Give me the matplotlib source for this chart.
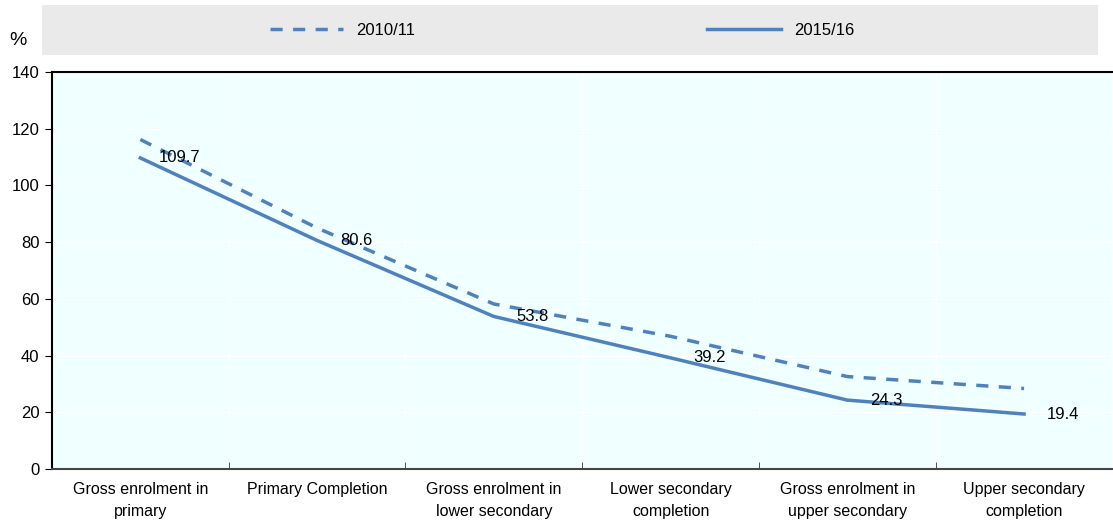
import matplotlib
matplotlib.use("Agg")
import matplotlib.pyplot as plt
from matplotlib.patches import Rectangle

plt.rcParams['font.family'] = ['Liberation Sans', 'DejaVu Sans']

categories = ["Gross enrolment in\nprimary", "Primary Completion",
              "Gross enrolment in\nlower secondary", "Lower secondary\ncompletion",
              "Gross enrolment in\nupper secondary", "Upper secondary\ncompletion"]
y2010 = [116.2, 85.0, 58.2, 46.8, 32.6, 28.4]
y2015 = [109.7, 80.6, 53.8, 39.2, 24.3, 19.4]

blue = '#4f81bd'
fs = 11.5

fig = plt.figure(figsize=(11.13, 5.22), dpi=100)
ax = fig.add_axes([0.0467, 0.1015, 0.9528, 0.7605])
ax.set_facecolor('#f0ffff')

x = list(range(len(categories)))
ax.plot(x, y2010, color=blue, lw=2.5, ls=(0, (3.5, 3.0)), label='2010/11')
ax.plot(x, y2015, color=blue, lw=2.5, label='2015/16')
for xi, v in zip(x, y2015):
    ax.annotate(f"{v}", (xi, v), xytext=(28, 0), textcoords='offset points',
                ha='center', va='center', fontsize=12, color='black')

ax.set_xlim(-0.5, len(categories) - 0.5)
ax.set_ylim(0, 140)
ax.set_yticks(range(0, 141, 20))
ax.set_xticks(x)
ax.set_xticklabels(categories, fontsize=fs, linespacing=1.6)
ax.set_xticks([i + 0.5 for i in x[:-1]], minor=True)
ax.tick_params(axis='x', which='major', length=0, pad=9)
ax.tick_params(axis='x', which='minor', length=5, direction='in', color='#333333')
ax.tick_params(axis='y', labelsize=12, length=5, direction='out', pad=4)

ax.grid(True, which='minor', axis='x', color='white', lw=1)
ax.grid(True, which='major', axis='y', color='white', lw=1)
ax.set_axisbelow(True)

for side in ['top', 'left']:
    ax.spines[side].set_color('black')
    ax.spines[side].set_linewidth(1.5)
ax.spines['bottom'].set_color('#444444')
ax.spines['bottom'].set_linewidth(1.5)
ax.spines['right'].set_visible(False)

fig.patches.append(Rectangle((0.0377, 0.8946), 0.949, 0.0958, transform=fig.transFigure,
                             facecolor='#eaeaea', edgecolor='none', zorder=0))
fig.legend(loc='center', bbox_to_anchor=(0.505, 0.942), ncol=2, frameon=False,
           fontsize=12, handlelength=4.4, columnspacing=17.5, handletextpad=0.8)
fig.text(0.0165, 0.922, '%', fontsize=14, ha='center', va='center')

fig.savefig('out.png', dpi=100)
